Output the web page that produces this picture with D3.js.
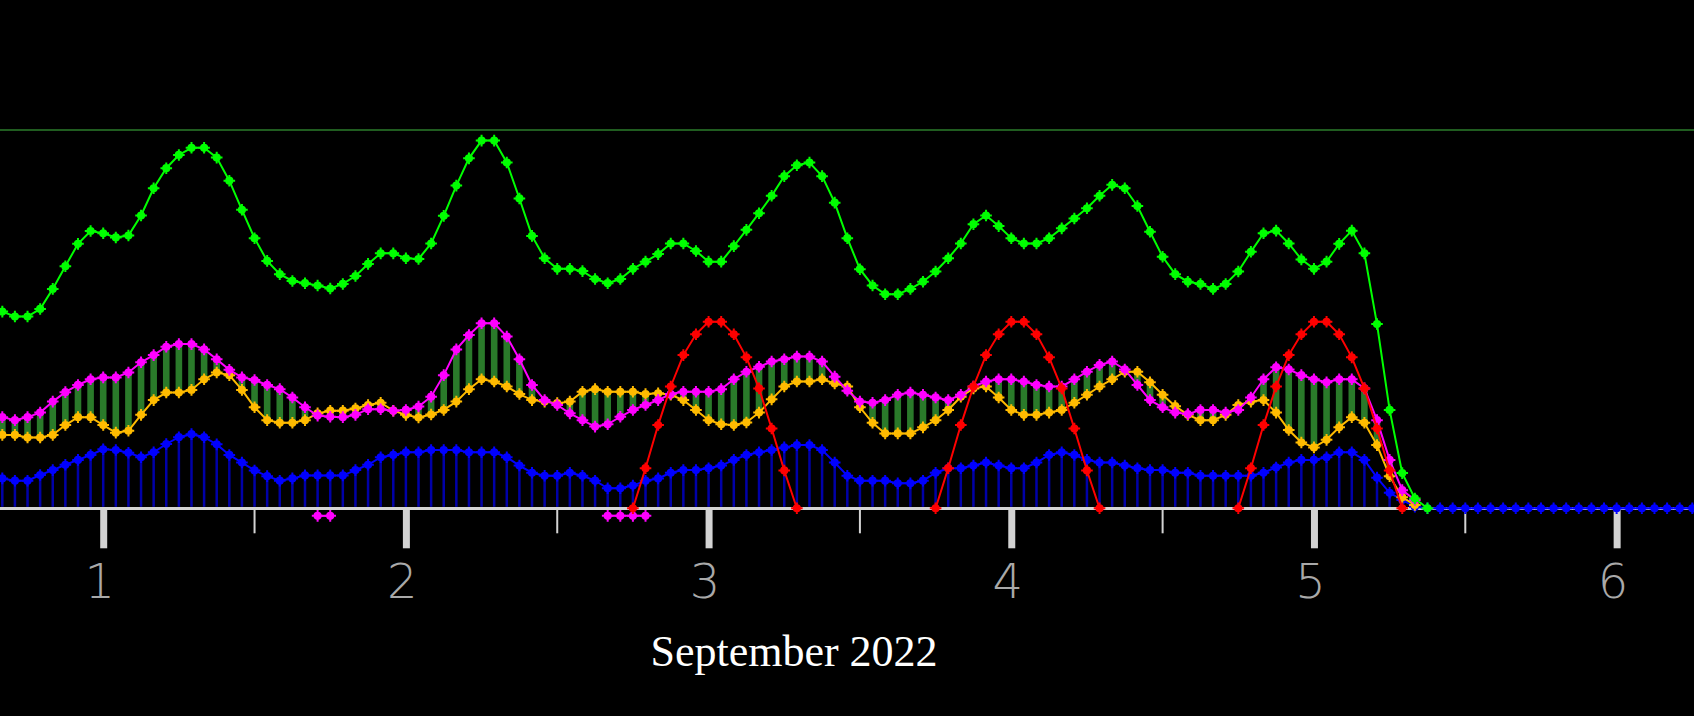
<!DOCTYPE html>
<html>
<head>
<meta charset="utf-8">
<script src="https://cdn.jsdelivr.net/npm/d3@7"></script>
<style>
  html, body { margin: 0; padding: 0; background: #000; overflow: hidden; }
</style>
</head>
<body>
<div id="chart"></div>
<script>
// hourly samples, first one at Aug 31 2022 16:00 UTC (hour -8 relative to Sep 1)
const firstHour = -8;

// lime line
const greenVals = [52.0, 50.7, 50.7, 52.7, 58.0, 64.0, 69.9, 73.3,
  72.7, 71.6, 72.1, 77.4, 84.6, 89.9, 93.4, 95.3, 95.3, 92.7, 86.6, 78.9, 71.4, 65.4, 61.9, 60.1,
  59.5, 58.9, 58.1, 59.3, 61.4, 64.6, 67.4, 67.4,
  66.1, 65.9, 70.0, 77.3, 85.3, 92.5, 97.2, 97.2, 91.4, 81.9, 72.0, 66.1, 63.3, 63.3, 62.7, 60.6,
  59.5, 60.6, 63.3, 65.2, 67.2, 70.0, 70.0, 68.0,
  65.2, 65.2, 69.3, 73.6, 78.0, 82.6, 87.8, 90.7, 91.4, 87.8, 80.8, 71.4, 63.2, 58.9, 56.6, 56.6,
  58.0, 59.9, 62.6, 66.1, 70.0, 75.1, 77.4, 74.6,
  71.4, 70.0, 70.0, 71.4, 74.0, 76.6, 79.3, 82.6, 85.5, 84.6, 79.9, 73.1, 66.5, 61.9, 59.9, 59.3,
  58.0, 59.3, 62.6, 67.8, 72.7, 73.4, 70.0, 65.8,
  63.3, 65.2, 69.9, 73.4, 67.4, 48.7, 26.0, 9.3, 2.6, 0];

// upper (magenta) and lower (orange) band
const magentaVals = [24.1, 23.3, 24.1, 25.3, 28.2, 30.7, 32.6, 34.1,
  34.6, 34.6, 35.9, 38.6, 40.5, 42.7, 43.4, 43.4, 42.0, 39.4, 36.6, 34.6, 33.9, 32.6, 31.5, 29.3,
  26.7, 24.5, 24.2, 24.1, 24.7, 26.2, 26.2, 25.8,
  26.0, 26.9, 29.5, 35.2, 42.0, 45.8, 48.9, 48.9, 45.4, 39.4, 32.6, 28.6, 27.3, 25.1, 23.3, 21.6,
  22.2, 24.2, 26.0, 27.3, 28.6, 30.2, 30.8, 30.8,
  30.8, 31.5, 34.1, 36.1, 37.4, 38.8, 39.4, 40.1, 40.1, 38.8, 34.8, 31.1, 28.2, 27.9, 28.6, 30.0,
  30.6, 30.0, 29.3, 28.6, 30.0, 32.2, 33.5, 34.1,
  34.1, 33.5, 32.6, 32.2, 32.2, 34.1, 36.1, 37.9, 38.8, 36.7, 32.6, 28.6, 26.7, 25.3, 24.9, 26.0,
  26.0, 25.3, 26.0, 29.3, 34.1, 37.3, 36.7, 35.2,
  34.1, 33.3, 34.1, 34.1, 31.7, 23.3, 12.8, 4.8, 2.2];

const orangeVals = [19.4, 19.4, 18.7, 18.7, 19.4, 22.0, 24.1, 24.1,
  22.0, 20.0, 20.5, 24.7, 28.6, 30.6, 30.6, 31.3, 34.1, 35.9, 35.2, 31.3, 26.7, 23.3, 22.6, 22.6,
  23.3, 25.1, 25.8, 25.8, 26.4, 27.3, 27.9, 25.8,
  24.7, 24.0, 24.8, 26.0, 28.2, 31.5, 34.1, 33.5, 32.2, 30.2, 28.6, 28.2, 27.8, 28.2, 30.8, 31.5,
  30.8, 30.8, 30.8, 30.2, 30.4, 30.0, 28.6, 26.0,
  23.3, 22.2, 22.0, 22.7, 25.3, 28.8, 32.2, 33.5, 33.5, 34.1, 33.0, 32.2, 26.7, 22.6, 19.8, 19.8,
  19.8, 21.4, 23.3, 26.0, 29.5, 31.7, 32.2, 29.3,
  26.0, 24.7, 24.7, 25.3, 26.0, 27.9, 30.0, 32.2, 34.1, 36.1, 36.1, 33.3, 30.0, 27.0, 24.7, 23.3,
  23.3, 24.7, 27.3, 28.2, 28.6, 25.3, 20.7, 17.4,
  16.1, 18.1, 21.4, 24.1, 22.6, 16.7, 8.5, 2.9, 0.9];

// blue stems
const blueVals = [7.9, 7.3, 7.3, 8.8, 10.1, 11.5, 12.8, 14.1,
  15.6, 15.4, 14.7, 13.5, 14.8, 17.0, 18.8, 19.6, 18.8, 16.9, 14.1, 12.1, 10.0, 8.5, 7.3, 7.9,
  8.7, 8.7, 8.7, 8.7, 10.1, 11.5, 13.5, 14.1,
  14.8, 14.8, 15.4, 15.4, 15.4, 14.8, 14.8, 14.8, 13.5, 11.3, 9.4, 8.6, 8.6, 9.4, 8.6, 7.3,
  5.3, 5.3, 6.0, 7.3, 7.9, 9.4, 10.1, 10.1,
  10.6, 11.3, 12.8, 14.1, 14.8, 15.4, 16.1, 16.7, 16.7, 15.4, 12.1, 8.6, 7.3, 7.3, 7.3, 6.6,
  6.6, 7.3, 9.4, 10.6, 10.6, 11.3, 12.1, 11.3,
  10.6, 10.6, 12.1, 14.1, 14.8, 14.1, 12.8, 12.1, 12.1, 11.3, 10.6, 10.1, 10.1, 9.4, 9.4, 8.6,
  8.6, 8.6, 8.6, 8.6, 9.4, 10.8, 12.1, 12.8,
  12.8, 13.5, 14.8, 14.8, 12.8, 8.1, 4.1, 2.2, 0.4,
  0, 0, 0, 0, 0, 0, 0, 0, 0, 0, 0, 0, 0, 0, 0, 0, 0, 0, 0, 0, 0, 0];

// red arcs: start hour of each, and the hourly values
const redStarts = [42, 66, 90];
const redVals = [0, 10.6, 22.0, 32.2, 40.5, 46.0, 49.3, 49.3, 46.0, 39.9, 31.7, 21.1, 10.0, 0];

// magenta readings below zero
const lowStarts = [17, 40];
const lowVals = [[-2.0, -2.0], [-2.0, -2.0, -2.0, -2.0]];

const refLevel = 100;
const dayTicks = ["1", "2", "3", "4", "5", "6"];
const xTitle = "September 2022";

const width = 1694, height = 716;
const sep1 = Date.UTC(2022, 8, 1);
const hourDate = h => new Date(sep1 + h * 3600e3);

const x = d3.scaleUtc()
  .domain([hourDate(-8.183), hourDate(126.134)])
  .range([0, width]);
const y = d3.scaleLinear().domain([0, refLevel]).range([508.3, 130]);

const series = (start, vals) => vals.map((v, i) => ({ t: hourDate(start + i), v }));

const green = series(firstHour, greenVals);
const magenta = series(firstHour, magentaVals);
const orange = series(firstHour, orangeVals);
const blue = series(firstHour, blueVals);
const reds = redStarts.map(s => series(s, redVals));
const lows = lowStarts.map((s, i) => series(s, lowVals[i]));

const svg = d3.select("#chart").append("svg")
  .attr("width", width).attr("height", height)
  .style("background", "#000");

// marker: round dot with thin cross arms
const dotCross = {
  draw(ctx) {
    const r = 4.1, a = 5.8, w = 1;
    ctx.moveTo(r, 0);
    ctx.arc(0, 0, r, 0, 2 * Math.PI);
    ctx.moveTo(-a, -w); ctx.lineTo(a, -w); ctx.lineTo(a, w); ctx.lineTo(-a, w); ctx.closePath();
    ctx.moveTo(-w, -a); ctx.lineTo(w, -a); ctx.lineTo(w, a); ctx.lineTo(-w, a); ctx.closePath();
  }
};
const marker = d3.symbol().type(dotCross);

// reference line
svg.append("line")
  .attr("x1", 0).attr("x2", width)
  .attr("y1", y(refLevel)).attr("y2", y(refLevel))
  .attr("stroke", "#2b7d2b").attr("stroke-width", 1.5);

// axis
const y0 = y(0);
const axisG = svg.append("g").attr("transform", `translate(0,${y0})`);

axisG.selectAll(".minor")
  .data(x.ticks(d3.utcHour.every(12)).filter(d => d.getUTCHours() === 12))
  .join("line")
  .attr("class", "minor")
  .attr("x1", d => x(d)).attr("x2", d => x(d))
  .attr("y1", 0).attr("y2", 25)
  .attr("stroke", "#d3d3d3").attr("stroke-width", 2);

const xAxis = d3.axisBottom(x)
  .ticks(d3.utcDay.every(1))
  .tickFormat((d, i) => dayTicks[i])
  .tickSize(40);

const majors = svg.append("g")
  .attr("transform", `translate(0,${y0})`)
  .call(xAxis);
majors.select(".domain").remove();
majors.selectAll(".tick line").attr("stroke", "#d3d3d3").attr("stroke-width", 7);
majors.selectAll(".tick text")
  .attr("y", 90).attr("dy", null).attr("dx", -4)
  .attr("fill", "#a9a9a9")
  .style("font-family", "'DejaVu Sans', sans-serif")
  .style("font-weight", 200)
  .style("font-size", "48px");

svg.append("line")
  .attr("x1", 0).attr("x2", width)
  .attr("y1", y0 + 0.2).attr("y2", y0 + 0.2)
  .attr("stroke", "#d3d3d3").attr("stroke-width", 3);

// range bars between magenta and orange
svg.append("g").selectAll("rect")
  .data(magenta.map((d, i) => ({ t: d.t, a: d.v, b: orange[i].v })))
  .join("rect")
  .attr("x", d => x(d.t) - 3.3)
  .attr("width", 6.6)
  .attr("y", d => y(Math.max(d.a, d.b)))
  .attr("height", d => Math.abs(y(d.a) - y(d.b)))
  .attr("fill", "#2a7a2a");

// blue stems
svg.append("g").selectAll("line")
  .data(blue.filter(d => d.v > 0))
  .join("line")
  .attr("x1", d => x(d.t)).attr("x2", d => x(d.t))
  .attr("y1", y0 - 1.5).attr("y2", d => y(d.v))
  .attr("stroke", "#0000a8").attr("stroke-width", 2.5);

const line = d3.line().x(d => x(d.t)).y(d => y(d.v));

function drawSeries(data, color) {
  const g = svg.append("g");
  g.append("path")
    .datum(data)
    .attr("fill", "none")
    .attr("stroke", color)
    .attr("stroke-width", 2)
    .attr("d", line);
  g.selectAll("path.m")
    .data(data)
    .join("path")
    .attr("class", "m")
    .attr("transform", d => `translate(${x(d.t)},${y(d.v)})`)
    .attr("d", marker())
    .attr("fill", color);
}

drawSeries(blue, "#0000ff");
drawSeries(orange, "#ffbb00");
drawSeries(magenta, "#ff00ff");
lows.forEach(s => drawSeries(s, "#ff00ff"));
reds.forEach(s => drawSeries(s, "#ff0000"));
drawSeries(green, "#00ff00");

svg.append("text")
  .attr("x", 794).attr("y", 666)
  .attr("text-anchor", "middle")
  .attr("fill", "#ffffff")
  .style("font-family", "'Liberation Serif', 'Times New Roman', serif")
  .style("font-size", "44px")
  .text(xTitle);
</script>
</body>
</html>
